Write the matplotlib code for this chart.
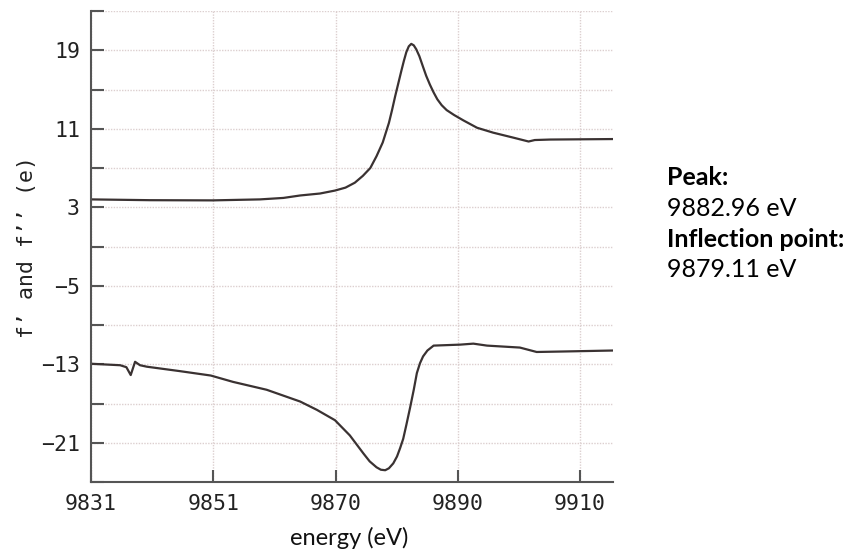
import matplotlib
matplotlib.use("Agg")
import matplotlib.pyplot as plt

# f'' (upper curve)
energy_fpp = [9831.0, 9840.5, 9850.6, 9858.2, 9862.0, 9864.7, 9867.9, 9870.3, 9872.0, 9873.5,
              9874.8, 9876.0, 9877.0, 9878.0, 9879.0, 9879.5, 9880.0, 9880.5, 9881.0, 9881.4,
              9881.8, 9882.2, 9882.6, 9883.0, 9883.4, 9883.9, 9884.5, 9885.0, 9885.6, 9886.2,
              9886.8, 9887.5, 9888.3, 9889.5, 9891.0, 9893.2, 9895.8, 9899.0, 9901.5, 9902.5,
              9905.0, 9915.1]
fpp = [3.8, 3.72, 3.7, 3.8, 3.95, 4.2, 4.4, 4.7, 5.0, 5.5,
       6.2, 7.0, 8.2, 9.6, 11.6, 12.9, 14.3, 15.6, 16.9, 17.9,
       18.8, 19.4, 19.65, 19.5, 19.1, 18.4, 17.3, 16.4, 15.5, 14.7,
       14.0, 13.4, 12.9, 12.4, 11.85, 11.1, 10.6, 10.1, 9.7, 9.85,
       9.9, 9.95]

# f' (lower curve)
energy_fp = [9831.0, 9835.7, 9836.7, 9837.4, 9838.1, 9838.9, 9840.0, 9845.3, 9850.3,
             9853.9, 9859.3, 9864.7, 9867.4, 9870.3, 9872.7, 9874.9, 9875.9, 9877.0,
             9877.7, 9878.4, 9879.0, 9879.7, 9880.3, 9880.8, 9881.3, 9881.8, 9882.4,
             9883.0, 9883.5, 9884.0, 9884.5, 9885.2, 9886.2, 9890.5, 9892.6, 9894.8,
             9900.1, 9902.8, 9907.1, 9915.1]
fp = [-12.95, -13.1, -13.3, -14.1, -12.75, -13.1, -13.25, -13.7, -14.15,
      -14.8, -15.6, -16.8, -17.65, -18.7, -20.25, -22.1, -22.9, -23.5,
      -23.75, -23.8, -23.6, -23.1, -22.4, -21.55, -20.6, -19.2, -17.45,
      -15.6, -13.9, -12.9, -12.2, -11.6, -11.1, -11.0, -10.9, -11.1,
      -11.3, -11.75, -11.7, -11.6]

x_tick_pos = [9831.0, 9850.7, 9870.4, 9890.1, 9909.8]
x_tick_labels = ["9831", "9851", "9870", "9890", "9910"]
y_tick_pos = [23, 19, 15, 11, 7, 3, -1, -5, -9, -13, -17, -21, -25]
y_tick_labels = ["", "19", "", "11", "", "3", "", "\u22125", "", "\u221213", "", "\u221221", ""]

fig = plt.figure(figsize=(8.52, 5.54), dpi=100)
ax = fig.add_axes([91/852, 1 - 482/554, (613-91)/852, (482-11)/554])

line_color = "#3a3232"
ax.plot(energy_fpp, fpp, color=line_color, lw=1.6)
ax.plot(energy_fp, fp, color=line_color, lw=1.6)

ax.set_xlim(9831.0, 9915.1)
ax.set_ylim(-25, 23)
ax.set_xticks(x_tick_pos)
ax.set_xticklabels(x_tick_labels)
ax.set_yticks(y_tick_pos)
ax.set_yticklabels(y_tick_labels)

mono = "DejaVu Sans Mono"
for lab in ax.get_xticklabels() + ax.get_yticklabels():
    lab.set_family(mono)
    lab.set_fontsize(15.5)
    lab.set_color("#222222")

ax.tick_params(direction="in", length=9, width=1.5, color="#555555")
ax.tick_params(axis="y", pad=8)
ax.tick_params(axis="x", pad=9)

ax.grid(True, color="#dccfcf", linestyle=(0, (1, 1)), linewidth=1.0)
ax.set_axisbelow(True)
for s in ["top", "right"]:
    ax.spines[s].set_visible(False)
for s in ["left", "bottom"]:
    ax.spines[s].set_color("#555555")
    ax.spines[s].set_linewidth(1.5)

ax.set_ylabel("f\u2019 and f\u2019\u2019 (e)", family=mono, fontsize=15.5, color="#222222")
ax.yaxis.set_label_coords(-0.103, 0.5)

fig.text(349/852, 1 - 538/554, "energy (eV)", family="Lato", fontsize=17,
         ha="center", va="center", color="#111111")

txt_x = 667/852
fs = 18
fig.text(txt_x, 1 - 185/554, "Peak:", family="Lato", fontweight="bold", fontsize=fs, va="baseline")
fig.text(txt_x, 1 - 216/554, "9882.96 eV", family="Lato", fontsize=fs, va="baseline")
fig.text(txt_x, 1 - 246.7/554, "Inflection point:", family="Lato", fontweight="bold", fontsize=fs, va="baseline")
fig.text(txt_x, 1 - 276.7/554, "9879.11 eV", family="Lato", fontsize=fs, va="baseline")

fig.savefig("out.png", dpi=100)
